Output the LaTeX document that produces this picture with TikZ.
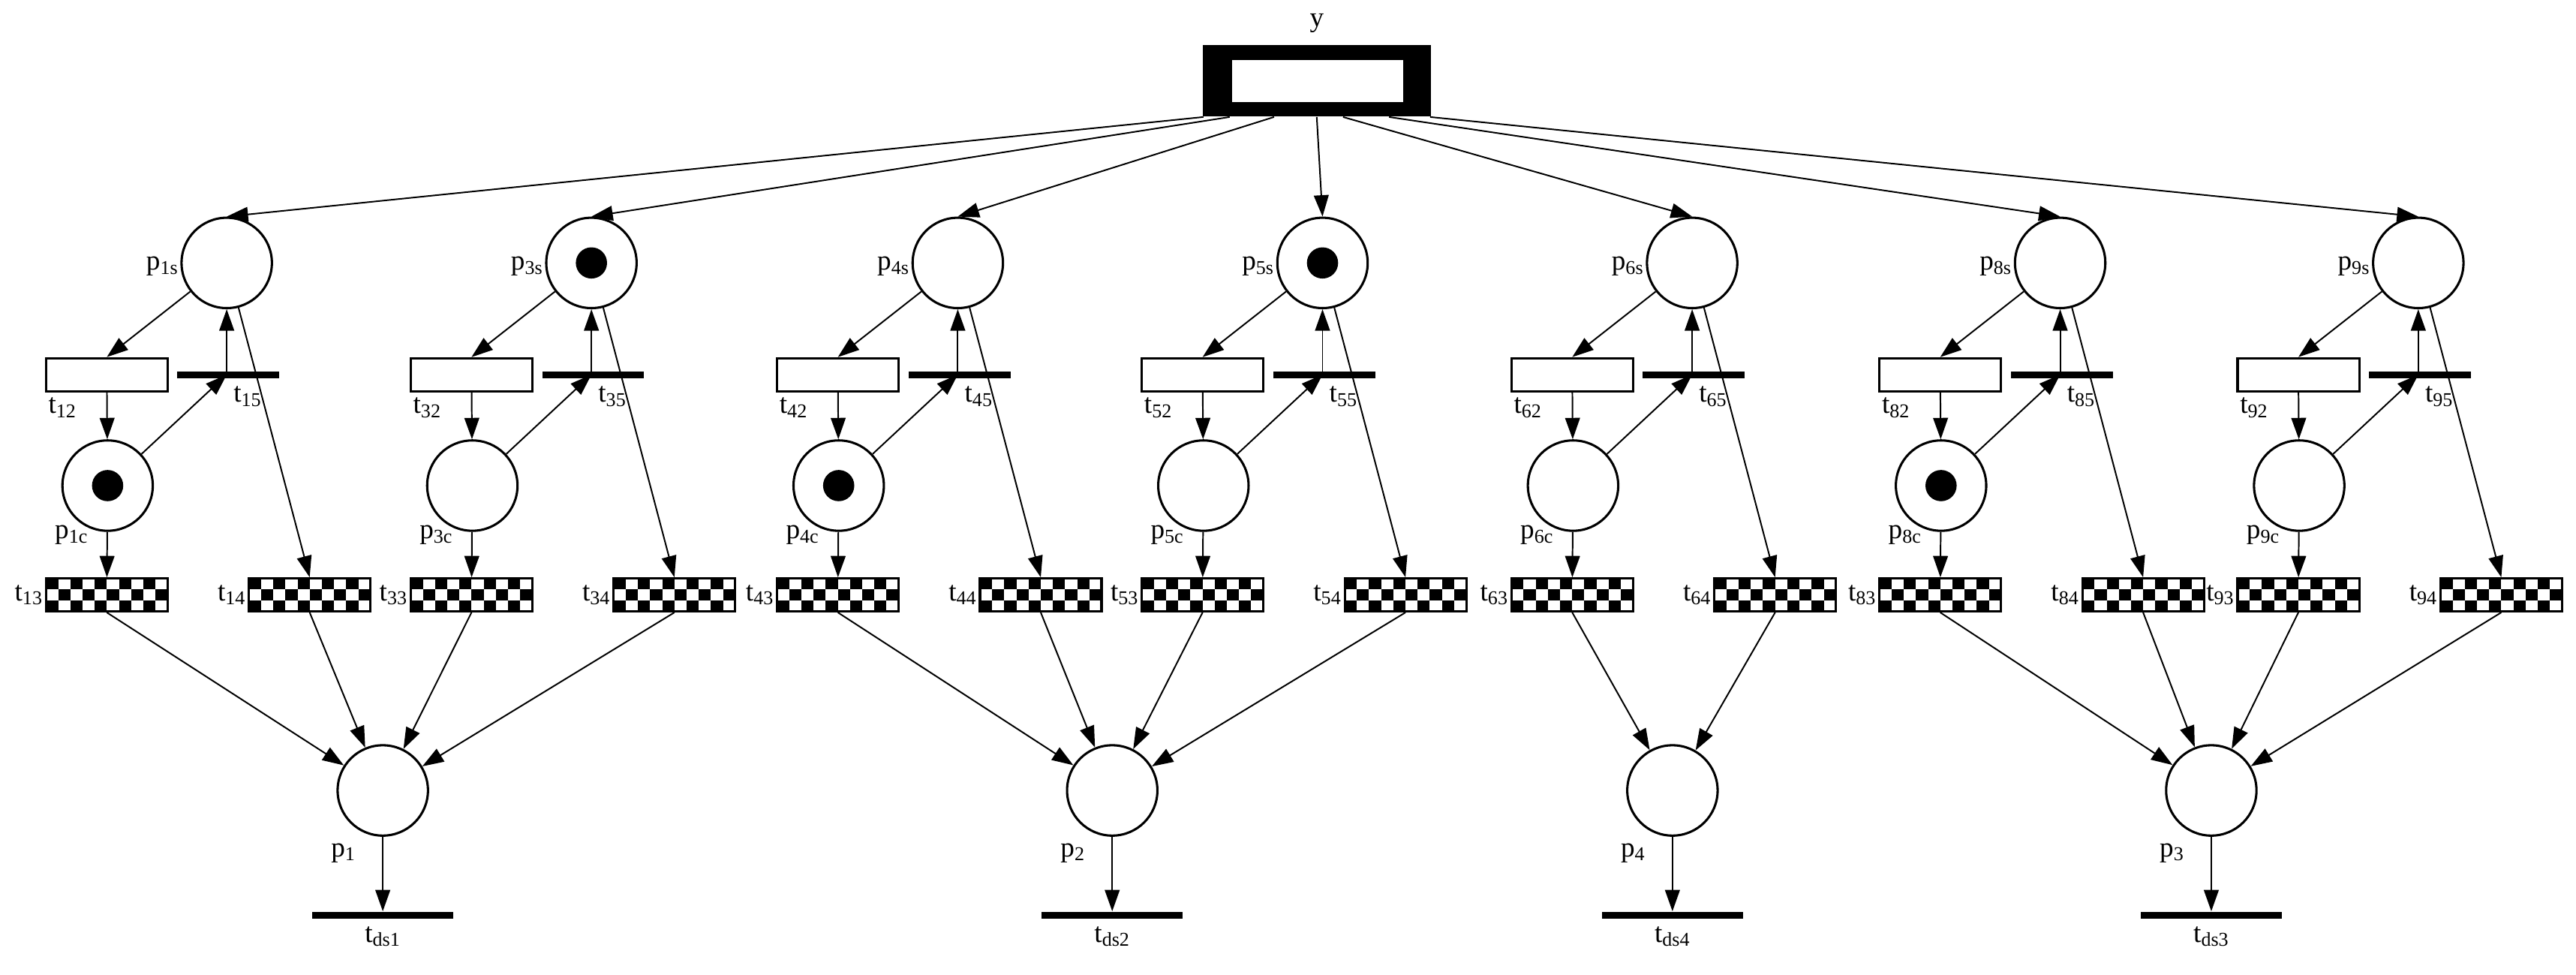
\documentclass[tikz,border=0pt]{standalone}
\usepackage{fontspec}
\setmainfont{Liberation Serif}
\usetikzlibrary{arrows.meta,calc}
\begin{document}
\begin{tikzpicture}[x=1pt,y=-1pt,
  font=\fontsize{17}{20}\selectfont,
  arr/.style={-{Triangle[length=13,width=9]},line width=0.9},
  pl/.style={circle,draw,line width=1.4,minimum size=55,inner sep=0},
  tok/.style={path picture={\fill (path picture bounding box.center) circle (9.5);}},
  wt/.style={rectangle,draw,line width=1.4,minimum width=74,minimum height=20,inner sep=0},
  bar/.style={rectangle,fill=black,minimum width=62,minimum height=4,inner sep=0},
  tb/.style={rectangle,fill=black,minimum width=86,minimum height=4.5,inner sep=0},
  ck/.style={rectangle,draw,line width=1.4,minimum width=74,minimum height=20,inner sep=0,
    path picture={\foreach \i in {0,...,9}{\foreach \j in {0,1,2}{
      \pgfmathtruncatemacro\m{mod(\i+\j,2)}
      \ifnum\m=0 \fill ($(path picture bounding box.north west)+(\i*7.4,\j*6.67)$) rectangle ++(7.4,6.67);\fi}}}},
  lb/.style={inner sep=1}
]
\useasboundingbox (0,0) rectangle (1568,593);
\node[rectangle,fill=black,minimum width=139,minimum height=43.6,inner sep=0] (y) at (801.5,49.2) {};
\fill[white] (750,36.5) rectangle (854,62);
\node[lb] (ylab) at (801.5,14) {y};
\foreach \X/\n/\ts/\tc/\o in {138/1/0/1/-69,360/3/1/0/-53,583/4/0/1/-26,805/5/1/0/0,1030/6/0/0/16,1254/8/0/1/44,1472/9/0/0/69}{
  \ifnum\ts=1 \node[pl,tok] (s\n) at (\X,160) {}; \else \node[pl] (s\n) at (\X,160) {}; \fi
  \ifnum\tc=1 \node[pl,tok] (c\n) at (\X-72.5,295.5) {}; \else \node[pl] (c\n) at (\X-72.5,295.5) {}; \fi
  \node[wt] (a\n) at (\X-73,228) {};
  \node[bar] (b\n) at (\X+1,228) {};
  \node[ck] (d\n) at (\X-73,362) {};
  \node[ck] (e\n) at (\X+50.5,362) {};
  \coordinate (bt\n) at (\X,228);
  \coordinate (yo\n) at ($(y.south)+(\o,0)$);
  \draw[arr] (yo\n) -- (s\n.north);
  \draw[arr] (s\n) -- (a\n.north);
  \draw[arr] (a\n) -- (c\n);
  \draw[arr] (c\n) -- (bt\n);
  \draw[arr] (bt\n) -- (s\n);
  \draw[arr] (s\n) -- (e\n.north);
  \draw[arr] (c\n) -- (d\n);
  \node[lb,anchor=east] (ls\n) at ($(s\n.west)+(0,2)$) {p\textsubscript{\n s}};
  \node[lb,anchor=north west] (la\n) at ($(a\n.south west)+(1,2)$) {t\textsubscript{\n2}};
  \node[lb,anchor=north west] (lb\n) at ($(bt\n)+(3,6)$) {t\textsubscript{\n5}};
  \node[lb,anchor=north] (lc\n) at ($(c\n.south west)+(-2,3)$) {p\textsubscript{\n c}};
  \node[lb,anchor=east] (ld\n) at (d\n.west) {t\textsubscript{\n3}};
  \node[lb,anchor=east] (le\n) at (e\n.west) {t\textsubscript{\n4}};
}
\foreach \P/\X/\k/\i in {p1/233/ds1/1,p2/677/ds2/2,p4/1018/ds4/4,p3/1346/ds3/3}{
  \node[pl] (\P) at (\X,481) {};
  \node[tb] (\k) at (\X,557) {};
  \draw[arr] (\P) -- (\k);
  \node[lb,anchor=north] (l\P) at ($(\P.south west)+(-4,11)$) {p\textsubscript{\i}};
  \node[lb,anchor=north] (l\k) at ($(\k.south)+(0,3)$) {t\textsubscript{\k}};
}
\foreach \t/\P in {d1/p1,e1/p1,d3/p1,e3/p1,d4/p2,e4/p2,d5/p2,e5/p2,d6/p4,e6/p4,d8/p3,e8/p3,d9/p3,e9/p3}{
  \draw[arr] (\t.south) -- (\P);
}
\end{tikzpicture}
\end{document}
